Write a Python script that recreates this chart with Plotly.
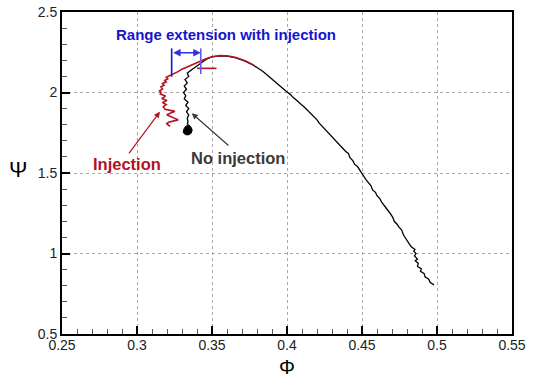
import plotly.graph_objects as go

# ---------------- data ----------------
# No injection (black) : phi, psi
noinj_phi = [0.498, 0.4955, 0.4945, 0.492, 0.4915, 0.489, 0.4895, 0.487, 0.4875, 0.4855,
             0.487, 0.485, 0.486, 0.4845, 0.4853, 0.483, 0.4815, 0.4805, 0.479, 0.478,
             0.477, 0.4765, 0.4745, 0.4735, 0.4715, 0.4705, 0.4687, 0.4675, 0.466, 0.465,
             0.463, 0.462, 0.4598, 0.459, 0.457, 0.456, 0.454, 0.4525, 0.4515, 0.4498,
             0.448, 0.447, 0.445, 0.444, 0.442, 0.4409, 0.439, 0.437, 0.4355, 0.434,
             0.4325, 0.431, 0.4287, 0.427, 0.4255, 0.4235, 0.4215, 0.42, 0.4185, 0.4165,
             0.415, 0.413, 0.4115, 0.4095, 0.408, 0.406, 0.404, 0.402, 0.3998, 0.398,
             0.396, 0.394, 0.392, 0.39, 0.388, 0.386, 0.384, 0.382, 0.38, 0.3773,
             0.372, 0.366, 0.360, 0.355, 0.350, 0.346, 0.343, 0.341, 0.339, 0.337,
             0.3355, 0.3335, 0.3345, 0.332, 0.3335, 0.3315, 0.333, 0.331, 0.3325, 0.3315,
             0.334, 0.3325, 0.3345, 0.333, 0.3345, 0.3335, 0.334, 0.3335]
noinj_psi = [0.805, 0.82, 0.84, 0.855, 0.875, 0.89, 0.905, 0.92, 0.94, 0.955,
             0.965, 0.985, 1.00, 1.015, 1.025, 1.04, 1.06, 1.075, 1.09, 1.11,
             1.13, 1.145, 1.165, 1.18, 1.20, 1.225, 1.25, 1.265, 1.28, 1.30,
             1.32, 1.34, 1.363, 1.38, 1.395, 1.42, 1.44, 1.46, 1.475, 1.498,
             1.52, 1.54, 1.555, 1.575, 1.595, 1.622, 1.635, 1.655, 1.672, 1.685,
             1.70, 1.715, 1.736, 1.75, 1.77, 1.79, 1.81, 1.83, 1.845, 1.865,
             1.88, 1.895, 1.91, 1.925, 1.94, 1.955, 1.97, 1.99, 2.005, 2.02,
             2.035, 2.05, 2.068, 2.085, 2.10, 2.115, 2.13, 2.14, 2.155, 2.171,
             2.195, 2.215, 2.226, 2.228, 2.222, 2.205, 2.185, 2.175, 2.163, 2.15,
             2.135, 2.12, 2.10, 2.08, 2.06, 2.04, 2.02, 2.00, 1.98, 1.96,
             1.94, 1.92, 1.90, 1.88, 1.86, 1.84, 1.82, 1.80]
# stall cluster of the no-injection run
stall_phi = [0.3345, 0.3358, 0.3368, 0.3362, 0.3345, 0.3322, 0.3308, 0.3312, 0.3322, 0.3345]
stall_psi = [1.80, 1.788, 1.768, 1.748, 1.737, 1.738, 1.752, 1.772, 1.788, 1.80]

# Injection (red)
inj_phi = [0.378, 0.372, 0.366, 0.360, 0.355, 0.350, 0.346, 0.343, 0.340, 0.3375,
           0.334, 0.330, 0.327, 0.324, 0.3215, 0.3195, 0.3205, 0.3185, 0.3195, 0.317,
           0.318, 0.316, 0.317, 0.315, 0.316, 0.3155, 0.319, 0.3165, 0.320, 0.317,
           0.3195, 0.3175, 0.3187, 0.3253, 0.3198, 0.323, 0.3275, 0.321, 0.3198, 0.322]
inj_psi = [2.17, 2.197, 2.217, 2.228, 2.229, 2.222, 2.21, 2.198, 2.185, 2.171,
           2.16, 2.145, 2.128, 2.115, 2.105, 2.095, 2.085, 2.075, 2.065, 2.055,
           2.045, 2.035, 2.022, 2.01, 2.00, 1.99, 1.978, 1.962, 1.95, 1.938,
           1.925, 1.912, 1.895, 1.883, 1.862, 1.85, 1.83, 1.815, 1.806, 1.79]
inj_mark_phi = [0.340, 0.353]
inj_mark_psi = [2.15, 2.15]

# range-extension markers (blue)
range_left_phi = [0.3231, 0.3231]
range_left_psi = [2.098, 2.274]
range_right_phi = [0.3425, 0.3425]
range_right_psi = [2.115, 2.274]
range_arrow_psi = 2.247

x_ticks = [0.25, 0.3, 0.35, 0.4, 0.45, 0.5, 0.55]
x_ticktext = ["0.25", "0.3", "0.35", "0.4", "0.45", "0.5", "0.55"]
y_ticks = [0.5, 1, 1.5, 2, 2.5]
y_ticktext = ["0.5", "1", "1.5", "2", "2.5"]

RED = "#b3121f"
BLUE = "#1515d0"
GRAY = "#3a3a3a"
FONT = "Liberation Sans, Arial, sans-serif"

W, H = 534, 378
L, R, T, B = 62, 22, 12, 44
pw, ph = W - L - R, H - T - B

fig = go.Figure()
fig.add_trace(go.Scatter(x=noinj_phi, y=noinj_psi, mode="lines",
                         line=dict(color="black", width=1.3), showlegend=False))
fig.add_trace(go.Scatter(x=stall_phi, y=stall_psi, mode="lines", fill="toself",
                         fillcolor="black", line=dict(color="black", width=1), showlegend=False))
fig.add_trace(go.Scatter(x=inj_phi, y=inj_psi, mode="lines",
                         line=dict(color=RED, width=1.6), showlegend=False))
fig.add_trace(go.Scatter(x=inj_mark_phi, y=inj_mark_psi, mode="lines",
                         line=dict(color=RED, width=1.6), showlegend=False))
fig.add_trace(go.Scatter(x=range_left_phi, y=range_left_psi, mode="lines",
                         line=dict(color=BLUE, width=1.6), showlegend=False))
fig.add_trace(go.Scatter(x=range_right_phi, y=range_right_psi, mode="lines",
                         line=dict(color="#5a5af0", width=1.6), showlegend=False))

ann = []
ann.append(dict(x=range_right_phi[0], y=range_arrow_psi, ax=range_left_phi[0], ay=range_arrow_psi,
                xref="x", yref="y", axref="x", ayref="y", text="", showarrow=True,
                arrowhead=2, startarrowhead=2, arrowside="end+start", arrowsize=1,
                arrowwidth=1.5, arrowcolor="#3030e0"))
ann.append(dict(x=0.3593, y=2.3615, xref="x", yref="y", text="<b>Range extension with injection</b>",
                showarrow=False, font=dict(family=FONT, size=15, color=BLUE)))
ann.append(dict(x=0.3153, y=1.881, ax=0.2939, ay=1.612, xref="x", yref="y", axref="x", ayref="y",
                text="", showarrow=True, arrowhead=2, arrowsize=1, arrowwidth=1.2, arrowcolor=RED))
ann.append(dict(x=0.3365, y=1.871, ax=0.362, ay=1.663, xref="x", yref="y", axref="x", ayref="y",
                text="", showarrow=True, arrowhead=2, arrowsize=1, arrowwidth=1.2, arrowcolor=GRAY))
ann.append(dict(x=0.2931, y=1.556, xref="x", yref="y", text="<b>Injection</b>", showarrow=False,
                font=dict(family=FONT, size=16.5, color=RED)))
ann.append(dict(x=0.3675, y=1.595, xref="x", yref="y", text="<b>No injection</b>", showarrow=False,
                font=dict(family=FONT, size=16.5, color=GRAY)))
ann.append(dict(x=(18 - L) / pw, y=1 - (170 - T) / ph, xref="paper", yref="paper", text="Ψ",
                showarrow=False, xanchor="center", yanchor="middle",
                font=dict(family=FONT, size=22, color="black")))
ann.append(dict(x=(287 - L) / pw, y=1 - (367 - T) / ph, xref="paper", yref="paper", text="Φ",
                showarrow=False, xanchor="center", yanchor="middle",
                font=dict(family=FONT, size=20, color="black")))

axis_common = dict(showline=True, linewidth=2, linecolor="black", mirror=True,
                   ticks="inside", ticklen=8, tickwidth=2, tickcolor="black",
                   showgrid=True, gridcolor="#a8a8a8", griddash="dot", gridwidth=1,
                   zeroline=False, automargin=False,
                   tickfont=dict(family=FONT, size=14, color="#222"))

fig.update_layout(
    width=W, height=H,
    margin=dict(l=L, r=R, t=T, b=B),
    plot_bgcolor="white", paper_bgcolor="white",
    annotations=ann,
    xaxis=dict(range=[0.25, 0.55], tickvals=x_ticks, ticktext=x_ticktext, ticklabelstandoff=-3,
               minor=dict(dtick=0.01, tick0=0.25, ticks="inside", ticklen=5, tickwidth=1,
                          tickcolor="#555", showgrid=False), **axis_common),
    yaxis=dict(range=[0.5, 2.5], tickvals=y_ticks, ticktext=y_ticktext,
               minor=dict(dtick=0.1, tick0=0.5, ticks="inside", ticklen=5, tickwidth=1,
                          tickcolor="#555", showgrid=False), **axis_common),
)

fig.write_html("out.html")
